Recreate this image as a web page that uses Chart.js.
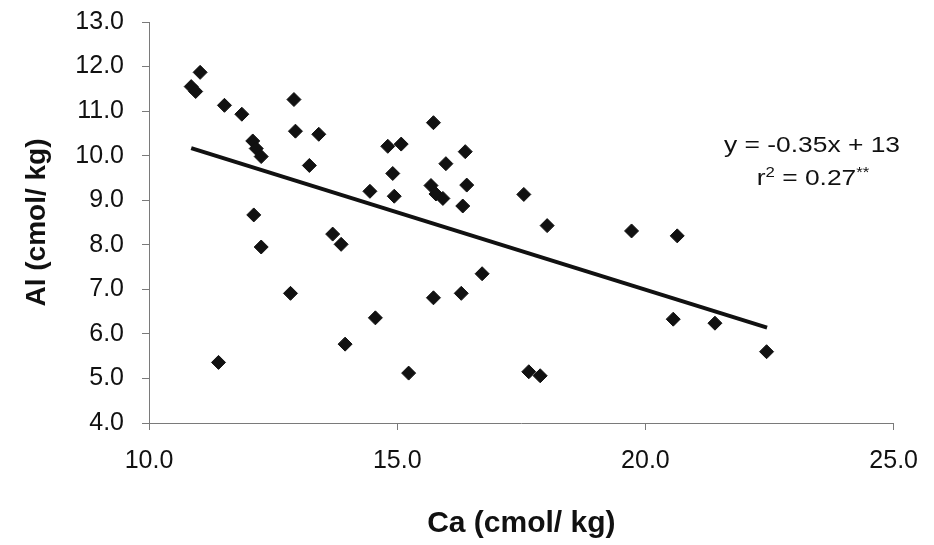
<!DOCTYPE html>
<html>
<head>
<meta charset="utf-8">
<script src="https://cdn.jsdelivr.net/npm/chart.js@4.4.1/dist/chart.umd.min.js"></script>
<style>
  html, body { margin: 0; padding: 0; background: #fff; }
  #wrap { width: 934px; height: 545px; }
</style>
</head>
<body>
<div id="wrap"><canvas id="myChart"></canvas></div>
<script>
// Ca (cmol/ kg) vs Al (cmol/ kg)
const caValues = [11.03, 10.85, 10.94, 11.52, 11.87, 12.92, 12.09, 12.16, 12.26, 12.95,
    13.42, 13.23, 14.45, 14.81, 15.08, 14.91, 14.94, 15.73, 15.68, 15.78,
    15.92, 12.11, 13.70, 13.87, 12.26, 12.85, 15.73, 14.56, 13.95, 11.40,
    15.23, 16.37, 15.98, 16.40, 16.32, 17.55, 18.02, 19.72, 20.64, 16.71,
    16.29, 20.56, 17.65, 17.88, 21.40, 22.44];
const alValues = [11.87, 11.55, 11.44, 11.13, 10.93, 11.26, 10.33, 10.16, 9.98, 10.55,
    10.48, 9.78, 9.20, 10.21, 10.26, 9.60, 9.09, 10.74, 9.33, 9.14,
    9.04, 8.67, 8.24, 8.01, 7.95, 6.91, 6.81, 6.36, 5.77, 5.36,
    5.12, 10.09, 9.82, 9.34, 8.87, 9.13, 8.43, 8.31, 8.20, 7.35,
    6.91, 6.33, 5.15, 5.06, 6.24, 5.60];

// trend line end points as drawn
const trendX = [10.85, 22.45];
const trendY = [10.17, 6.14];

const xTicks = [10, 15, 20, 25];
const yTicks = [4, 5, 6, 7, 8, 9, 10, 11, 12, 13];

const eqLine1 = 'y = -0.35x + 13';
const eqLine2 = ['r', '2', ' = 0.27', '**']; // pieces, odd ones are superscript

const points = caValues.map((x, i) => ({ x: x, y: alValues[i] }));
const trend = trendX.map((x, i) => ({ x: x, y: trendY[i] }));

const FONT = "'Liberation Sans', Arial, sans-serif";
const AXIS = '#7a7a7a';

// equation text in the upper right (the figure's text is a bit wide, so stretch it)
const eqLabel = {
    id: 'eqLabel',
    afterDraw(chart) {
        const ctx = chart.ctx;
        ctx.save();
        ctx.fillStyle = '#111';
        ctx.textBaseline = 'alphabetic';

        ctx.save();
        ctx.translate(812, 152);
        ctx.scale(1.2, 1);
        ctx.font = '22px ' + FONT;
        ctx.textAlign = 'center';
        ctx.fillText(eqLine1, 0, 0);
        ctx.restore();

        ctx.save();
        ctx.translate(813, 185);
        ctx.scale(1.2, 1);
        ctx.textAlign = 'left';
        const sizes = eqLine2.map((t, i) => (i % 2 ? 14 : 22));
        let total = 0;
        eqLine2.forEach((t, i) => {
            ctx.font = sizes[i] + 'px ' + FONT;
            total += ctx.measureText(t).width;
        });
        let x = -total / 2;
        eqLine2.forEach((t, i) => {
            ctx.font = sizes[i] + 'px ' + FONT;
            ctx.fillText(t, x, i % 2 ? -8 : 0);
            x += ctx.measureText(t).width;
        });
        ctx.restore();

        ctx.restore();
    }
};

const cht = document.getElementById('myChart');
const chart = new Chart(cht, {
    type: 'scatter',
    data: {
        datasets: [{
            label: 'Al',
            data: points,
            pointStyle: 'rectRot',
            pointRadius: 7,
            pointHoverRadius: 7,
            backgroundColor: '#111',
            borderColor: '#111',
            borderWidth: 1
        }, {
            type: 'line',
            label: 'trend',
            data: trend,
            borderColor: '#111',
            borderWidth: 4,
            pointRadius: 0,
            fill: false
        }]
    },
    options: {
        responsive: true,
        maintainAspectRatio: false,
        animation: false,
        layout: { padding: { top: 22, right: 40, left: 0, bottom: 0 } },
        scales: {
            x: {
                type: 'linear',
                min: 10,
                max: 25,
                afterBuildTicks: (scale) => { scale.ticks = xTicks.map(v => ({ value: v })); },
                afterFit: (scale) => { scale.height = 122; },
                ticks: {
                    color: '#111',
                    font: { family: FONT, size: 25 },
                    padding: 16,
                    callback: (v) => Number(v).toFixed(1)
                },
                grid: { display: true, drawOnChartArea: false, drawTicks: true, tickLength: 7, color: AXIS },
                border: { display: true, color: AXIS, width: 1 },
                title: {
                    display: true,
                    text: 'Ca (cmol/ kg)',
                    color: '#111',
                    font: { family: FONT, size: 30, weight: 'bold' },
                    padding: { top: 0, bottom: 3 }
                }
            },
            y: {
                min: 4,
                max: 13,
                afterBuildTicks: (scale) => { scale.ticks = yTicks.map(v => ({ value: v })); },
                afterFit: (scale) => {
                    scale.width = 149;
                    // keep the tick padding from pushing the plot top down
                    scale.paddingTop = 0;
                    scale.paddingBottom = 0;
                },
                ticks: {
                    color: '#111',
                    font: { family: FONT, size: 25 },
                    padding: 18,
                    callback: (v) => Number(v).toFixed(1)
                },
                grid: { display: true, drawOnChartArea: false, drawTicks: true, tickLength: 7, color: AXIS },
                border: { display: true, color: AXIS, width: 1 },
                title: {
                    display: true,
                    text: 'Al (cmol/ kg)',
                    color: '#111',
                    font: { family: FONT, size: 28, weight: 'bold' },
                    padding: { top: 20, bottom: 0 }
                }
            }
        },
        plugins: {
            legend: { display: false },
            tooltip: { enabled: false }
        }
    },
    plugins: [eqLabel]
});
</script>
</body>
</html>
